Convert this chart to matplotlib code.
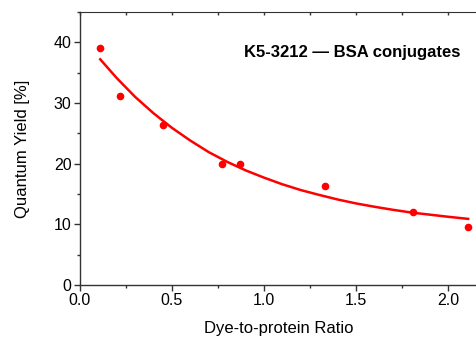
import numpy as np
import matplotlib
matplotlib.use("Agg")
import matplotlib.pyplot as plt
from matplotlib.ticker import MultipleLocator

plt.rcParams['font.family'] = ['Liberation Sans', 'DejaVu Sans']

# measured points
ratio = [0.11, 0.22, 0.45, 0.77, 0.87, 1.33, 1.81, 2.11]
qy = [39.1, 31.1, 26.4, 19.9, 20.0, 16.4, 12.1, 9.6]

# fit curve
fit_x = [0.11, 0.2, 0.3, 0.4, 0.5, 0.6, 0.7, 0.8, 0.9, 1.0,
         1.1, 1.2, 1.3, 1.4, 1.5, 1.6, 1.7, 1.8, 1.9, 2.0, 2.11]
fit_y = [37.2, 34.1, 31.0, 28.3, 25.9, 23.8, 21.9, 20.3, 18.9, 17.7,
         16.6, 15.65, 14.85, 14.1, 13.45, 12.9, 12.4, 11.95, 11.6, 11.25, 10.9]

fig = plt.figure(figsize=(4.77, 3.38), dpi=100)
ax = fig.add_axes([0.1677, 0.1568, 0.8323, 0.8077])

ax.plot(fit_x, fit_y, color='red', lw=1.8, zorder=2)
ax.plot(ratio, qy, 'o', color='red', ms=5.5, mec='none', zorder=3)

ax.set_xlim(0, 2.158)
ax.set_ylim(0, 45)
ax.xaxis.set_major_locator(MultipleLocator(0.5))
ax.xaxis.set_minor_locator(MultipleLocator(0.25))
ax.yaxis.set_major_locator(MultipleLocator(10))
ax.yaxis.set_minor_locator(MultipleLocator(5))
ax.xaxis.set_major_formatter(plt.FormatStrFormatter('%.1f'))

ax.spines['right'].set_visible(False)
ax.spines['top'].set_visible(False)
for s in ['left', 'bottom']:
    ax.spines[s].set_color('#333333')
    ax.spines[s].set_linewidth(1.0)

ax.tick_params(which='major', direction='out', length=4, width=1,
               labelsize=11.5, color='#333333', pad=2)
ax.tick_params(which='minor', direction='out', length=2.5, width=1,
               color='#333333')

top = ax.secondary_xaxis('top')
top.xaxis.set_major_locator(MultipleLocator(0.25))
top.tick_params(direction='in', length=2.5, width=1, labeltop=False,
                color='#333333')
top.spines['top'].set_color('#333333')

ax.set_xlabel('Dye-to-protein Ratio', fontsize=12, labelpad=9)
ax.set_ylabel('Quantum Yield [%]', fontsize=12, labelpad=17)

ax.text(0.685, 0.85, 'K5-3212 \u2014 BSA conjugates', transform=ax.transAxes,
        ha='center', va='center', fontsize=12, fontweight='bold')

fig.savefig('out.png', dpi=100)
